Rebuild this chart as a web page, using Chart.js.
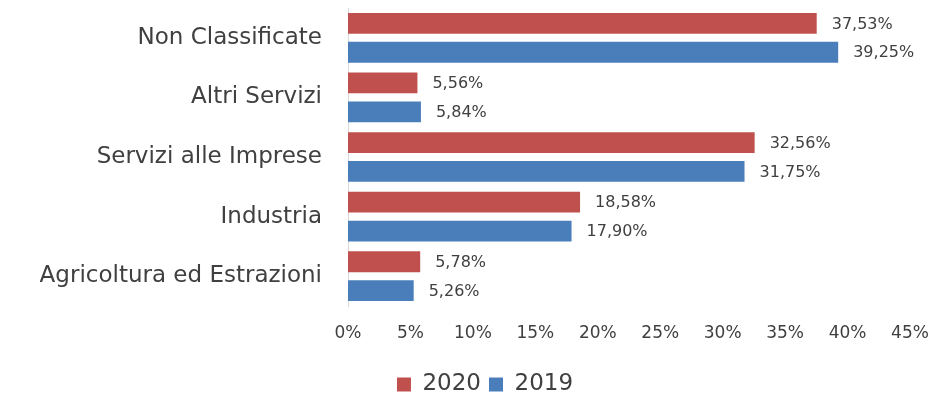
<!DOCTYPE html>
<html>
<head>
<meta charset="utf-8">
<script src="https://cdn.jsdelivr.net/npm/chart.js@4/dist/chart.umd.min.js"></script>
<style>
  html, body { margin: 0; padding: 0; background: #fff; }
  #wrap { width: 930px; height: 400px; }
</style>
</head>
<body>
<div id="wrap"><canvas id="chart" width="930" height="400"></canvas></div>
<script>
// dati del grafico
const categorie = ['Non Classificate', 'Altri Servizi', 'Servizi alle Imprese', 'Industria', 'Agricoltura ed Estrazioni'];
const valori2020 = [37.53, 5.56, 32.56, 18.58, 5.78];
const valori2019 = [39.25, 5.84, 31.75, 17.90, 5.26];
const tickMax = 45;
const tickStep = 5;

const FONT = "'DejaVu Sans', sans-serif";
const TESTO = '#404040';

// etichette dei valori a destra delle barre (virgola decimale)
const etichette = {
  id: 'etichette',
  afterDatasetsDraw(chart) {
    const ctx = chart.ctx;
    ctx.save();
    ctx.font = '16px ' + FONT;
    ctx.fillStyle = TESTO;
    ctx.textBaseline = 'middle';
    ctx.textAlign = 'left';
    chart.data.datasets.forEach((ds, i) => {
      chart.getDatasetMeta(i).data.forEach((bar, j) => {
        const txt = ds.data[j].toFixed(2).replace('.', ',') + '%';
        ctx.fillText(txt, bar.x + 15, bar.y + 1);
      });
    });
    ctx.restore();
  }
};

new Chart(document.getElementById('chart').getContext('2d'), {
  type: 'bar',
  data: {
    labels: categorie,
    datasets: [
      { label: '2020', data: valori2020, backgroundColor: '#C0504D', categoryPercentage: 0.97, barPercentage: 0.72 },
      { label: '2019', data: valori2019, backgroundColor: '#4A7EBB', categoryPercentage: 0.97, barPercentage: 0.72 }
    ]
  },
  options: {
    indexAxis: 'y',
    responsive: false,
    animation: false,
    layout: { padding: { top: 8, right: 0, left: 40, bottom: -6 } },
    scales: {
      x: {
        min: 0,
        max: tickMax,
        grid: { display: false },
        border: { display: false },
        afterFit: s => { s.paddingLeft = 0; s.paddingRight = 20; s.height = 59; },
        ticks: {
          stepSize: tickStep,
          color: TESTO,
          font: { family: FONT, size: 17 },
          padding: 9,
          callback: v => v + '%'
        }
      },
      y: {
        grid: { display: false },
        border: { display: true, color: '#d9d9d9', width: 1 },
        afterFit: s => { s.width = 308; s.paddingTop = 0; s.paddingBottom = 0; },
        ticks: {
          color: TESTO,
          font: { family: FONT, size: 23 },
          padding: 18
        }
      }
    },
    plugins: {
      legend: {
        position: 'bottom',
        labels: {
          color: TESTO,
          font: { family: FONT, size: 23 },
          boxWidth: 14,
          boxHeight: 14,
          padding: 8
        }
      },
      tooltip: { enabled: false }
    }
  },
  plugins: [etichette]
});
</script>
</body>
</html>
